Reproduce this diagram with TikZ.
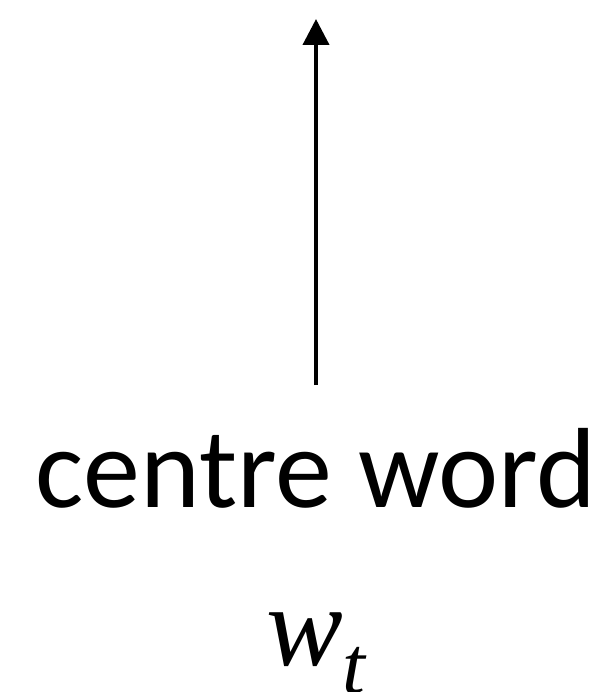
\documentclass[tikz,border=0pt]{standalone}
\usepackage{fontspec}
\setmainfont{Carlito}
\newfontfamily\wserif{Liberation Serif}
\usetikzlibrary{arrows.meta}
\tikzset{
  lbl/.style={font=\fontsize{114}{120}\selectfont, inner sep=0pt, anchor=base},
  mathlbl/.style={font=\wserif\itshape\fontsize{115}{120}\selectfont, inner sep=0pt, anchor=base west},
  arr/.style={line width=4pt, -{Triangle[length=26pt,width=26pt]}}
}
\begin{document}
\begin{tikzpicture}[x=1pt,y=-1pt]
\useasboundingbox[fill=white] (0,0) rectangle (610,692);
\node[lbl] (cw) at (316,507) {centre word};
\node[mathlbl] (wt) at (266,665) {w\raisebox{-28pt}{\fontsize{82}{86}\selectfont t}};
\coordinate (bot) at (316,385);
\coordinate (top) at (316,19);
\draw[arr] (bot) -- (top);
\end{tikzpicture}
\end{document}
